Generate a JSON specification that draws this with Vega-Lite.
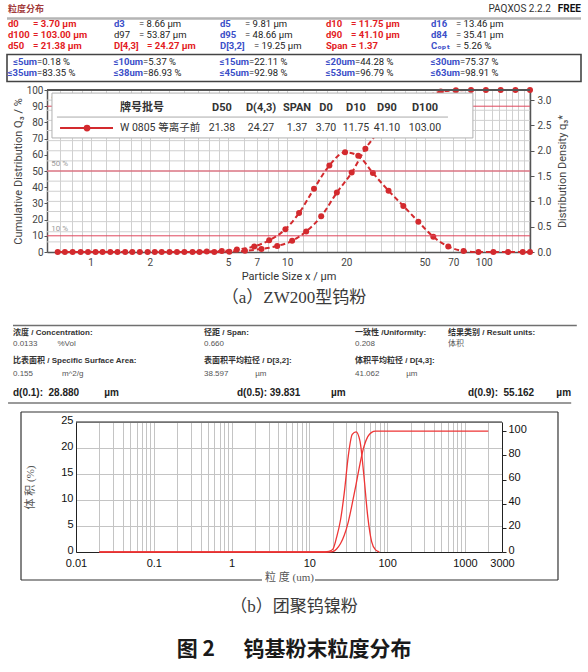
{
"$schema": "https://vega.github.io/schema/vega-lite/v6.json",
"padding": 0,
"autosize": {"type": "pad"},
"spacing": 0,
"bounds": "flush",
"config": {"view": {"stroke": null}, "font": "Roboto", "text": {"font": "Roboto, Noto Sans CJK SC"}},
"resolve": {"scale": {"x": "independent", "y": "independent", "color": "independent"}, "axis": {"x": "independent", "y": "independent"}},
"datasets": {
 "cellsA": [
  {"col":0,"row":0,"lab":"d0","val":"= 3.70 µm","grp":"key"},
  {"col":1,"row":0,"lab":"d3","val":"= 8.66 µm","grp":"stat"},
  {"col":2,"row":0,"lab":"d5","val":"= 9.81 µm","grp":"stat"},
  {"col":3,"row":0,"lab":"d10","val":"= 11.75 µm","grp":"key"},
  {"col":4,"row":0,"lab":"d16","val":"= 13.46 µm","grp":"stat"},
  {"col":0,"row":1,"lab":"d100","val":"= 103.00 µm","grp":"key"},
  {"col":1,"row":1,"lab":"d97","val":"= 53.87 µm","grp":"plain"},
  {"col":2,"row":1,"lab":"d95","val":"= 48.66 µm","grp":"stat"},
  {"col":3,"row":1,"lab":"d90","val":"= 41.10 µm","grp":"key"},
  {"col":4,"row":1,"lab":"d84","val":"= 35.41 µm","grp":"stat"},
  {"col":0,"row":2,"lab":"d50","val":"= 21.38 µm","grp":"key"},
  {"col":1,"row":2,"lab":"D[4,3]","val":"= 24.27 µm","grp":"key"},
  {"col":2,"row":2,"lab":"D[3,2]","val":"= 19.25 µm","grp":"stat"},
  {"col":3,"row":2,"lab":"Span","val":"= 1.37","grp":"key"},
  {"col":4,"row":2,"lab":"Cₒₚₜ","val":"= 5.26 %","grp":"stat"}
 ],
 "boxA": [
  {"col":0,"row":0,"lab":"≤5um","val":"=0.18 %"},
  {"col":1,"row":0,"lab":"≤10um","val":"=5.37 %"},
  {"col":2,"row":0,"lab":"≤15um","val":"=22.11 %"},
  {"col":3,"row":0,"lab":"≤20um","val":"=44.28 %"},
  {"col":4,"row":0,"lab":"≤30um","val":"=75.37 %"},
  {"col":0,"row":1,"lab":"≤35um","val":"=83.35 %"},
  {"col":1,"row":1,"lab":"≤38um","val":"=86.93 %"},
  {"col":2,"row":1,"lab":"≤45um","val":"=92.98 %"},
  {"col":3,"row":1,"lab":"≤53um","val":"=96.79 %"},
  {"col":4,"row":1,"lab":"≤63um","val":"=98.91 %"}
 ],
 "qa": [
  {"x":0.68,"q":0},{"x":0.81,"q":0},{"x":0.97,"q":0},{"x":1.15,"q":0},{"x":1.37,"q":0},{"x":1.63,"q":0},{"x":1.95,"q":0},{"x":2.3,"q":0},{"x":2.75,"q":0},{"x":3.3,"q":0},{"x":3.9,"q":0.01},{"x":4.65,"q":0.02},{"x":5.55,"q":0.05},{"x":6.8,"q":0.11},{"x":8.1,"q":0.23},{"x":9.8,"q":0.45},{"x":11.5,"q":0.77},{"x":13.7,"q":1.25},{"x":16.4,"q":1.71},{"x":19.7,"q":1.97},{"x":23.0,"q":1.9},{"x":27.3,"q":1.56},{"x":32.8,"q":1.21},{"x":39.0,"q":0.91},{"x":46.5,"q":0.6},{"x":55.4,"q":0.3},{"x":66,"q":0.11},{"x":79,"q":0.02},{"x":94,"q":0},{"x":112,"q":0},{"x":133,"q":0},{"x":158,"q":0},{"x":172,"q":0}
 ],
 "Qa": [
  {"x":0.74,"Q":0},{"x":0.89,"Q":0},{"x":1.06,"Q":0},{"x":1.26,"Q":0},{"x":1.5,"Q":0},{"x":1.78,"Q":0},{"x":2.12,"Q":0},{"x":2.52,"Q":0},{"x":3.0,"Q":0},{"x":3.58,"Q":0},{"x":4.26,"Q":0.05},{"x":5.08,"Q":0.2},{"x":6.1,"Q":0.7},{"x":7.4,"Q":1.9},{"x":8.9,"Q":3.7},{"x":10.6,"Q":6.9},{"x":12.5,"Q":12.7},{"x":14.9,"Q":22},{"x":17.9,"Q":36.7},{"x":21.3,"Q":49},{"x":25.0,"Q":63.7},{"x":29.9,"Q":75.5},{"x":35.8,"Q":84.3},{"x":42.6,"Q":91},{"x":50.8,"Q":96},{"x":60.5,"Q":99},{"x":72.2,"Q":99.8},{"x":86.2,"Q":100},{"x":102.6,"Q":100},{"x":122,"Q":100},{"x":145,"Q":100},{"x":172,"Q":100}
 ],
 "refA": [{"p":10,"lab":"10 %"},{"p":50,"lab":"50 %"},{"p":90,"lab":"90 %"}],
 "gridA": [{"g":0.2},{"g":0.4},{"g":0.6},{"g":0.8},{"g":1.0},{"g":1.2},{"g":1.4},{"g":1.6},{"g":1.8},{"g":2.0},{"g":2.2},{"g":2.4},{"g":2.6},{"g":2.8},{"g":3.0}],
 "legA": [
  {"c":0,"h":"牌号批号","v":"W 0805 等离子前"},
  {"c":1,"h":"D50","v":"21.38"},
  {"c":2,"h":"D(4,3)","v":"24.27"},
  {"c":3,"h":"SPAN","v":"1.37"},
  {"c":4,"h":"D0","v":"3.70"},
  {"c":5,"h":"D10","v":"11.75"},
  {"c":6,"h":"D90","v":"41.10"},
  {"c":7,"h":"D100","v":"103.00"}
 ],
 "infoB": [
  {"c":0,"r":0,"t":"浓度 / Concentration:","k":"lab"},
  {"c":0,"r":1,"t":"0.0133\u00a0\u00a0\u00a0\u00a0\u00a0\u00a0\u00a0\u00a0\u00a0%Vol","k":"val"},
  {"c":1,"r":0,"t":"径距 / Span:","k":"lab"},
  {"c":1,"r":1,"t":"0.660","k":"val"},
  {"c":2,"r":0,"t":"一致性 /Uniformity:","k":"lab"},
  {"c":2,"r":1,"t":"0.208","k":"val"},
  {"c":3,"r":0,"t":"结果类别 / Result units:","k":"lab"},
  {"c":3,"r":1,"t":"体积","k":"val"},
  {"c":0,"r":2,"t":"比表面积 / Specific Surface Area:","k":"lab"},
  {"c":0,"r":3,"t":"0.155\u00a0\u00a0\u00a0\u00a0\u00a0\u00a0\u00a0\u00a0\u00a0\u00a0\u00a0\u00a0\u00a0m^2/g","k":"val"},
  {"c":1,"r":2,"t":"表面积平均粒径 / D[3,2]:","k":"lab"},
  {"c":1,"r":3,"t":"38.597\u00a0\u00a0\u00a0\u00a0\u00a0\u00a0\u00a0\u00a0\u00a0\u00a0\u00a0\u00a0µm","k":"val"},
  {"c":2,"r":2,"t":"体积平均粒径 / D[4,3]:","k":"lab"},
  {"c":2,"r":3,"t":"41.062\u00a0\u00a0\u00a0\u00a0\u00a0\u00a0\u00a0\u00a0\u00a0\u00a0\u00a0\u00a0µm","k":"val"}
 ],
 "drowB": [
  {"c":0,"t":"d(0.1):\u00a0\u00a028.880\u00a0\u00a0\u00a0\u00a0\u00a0\u00a0\u00a0\u00a0\u00a0µm"},
  {"c":1,"t":"d(0.5):\u00a039.831\u00a0\u00a0\u00a0\u00a0\u00a0\u00a0\u00a0\u00a0\u00a0\u00a0\u00a0µm"},
  {"c":2,"t":"d(0.9):\u00a0\u00a055.162\u00a0\u00a0\u00a0\u00a0\u00a0\u00a0\u00a0\u00a0µm"}
 ],
 "qb": [
  {"x":0.02,"v":0},{"x":15.9,"v":0},{"x":17.8,"v":0.1},{"x":20.0,"v":0.5},{"x":22.4,"v":2.8},{"x":25.2,"v":6.2},{"x":28.2,"v":11.5},{"x":31.7,"v":18.5},{"x":35.6,"v":22.6},{"x":39.9,"v":23.1},{"x":44.8,"v":21.3},{"x":50.2,"v":14.8},{"x":56.4,"v":6.8},{"x":63.2,"v":2.0},{"x":71.0,"v":0.4},{"x":79.6,"v":0}
 ],
 "Qb": [
  {"x":0.02,"c":0},{"x":15.9,"c":0},{"x":17.8,"c":0},{"x":20.0,"c":0.3},{"x":22.4,"c":2.5},{"x":25.2,"c":7},{"x":28.2,"c":14},{"x":31.7,"c":25},{"x":35.6,"c":40},{"x":39.9,"c":56},{"x":44.8,"c":73},{"x":50.2,"c":87},{"x":56.4,"c":95.5},{"x":63.2,"c":99},{"x":71.0,"c":100},{"x":2000,"c":100}
 ]
},
"vconcat": [
 {
  "width": 588, "height": 54,
  "layer": [
   {"data":{"values":[{"t":"粒度分布"}]},
    "mark":{"type":"text","align":"left","baseline":"middle","font":"Noto Sans CJK SC","fontSize":9,"fontWeight":"bold","color":"#a23a3a"},
    "encoding":{"text":{"field":"t"},
     "x":{"datum":0,"type":"quantitative","scale":{"domain":[-1,0,1,2,3,4,5],"range":[0,8,114,220,326,431,581],"nice":false,"zero":false},"axis":null},
     "y":{"datum":-2,"type":"quantitative","scale":{"domain":[-2,-1,0,1,2],"range":[9,18.5,24,35,46],"nice":false,"zero":false},"axis":null}}},
   {"data":{"values":[{"t":"PAQXOS 2.2.2"}]},
    "mark":{"type":"text","align":"right","baseline":"middle","dx":-30,"font":"Roboto","fontSize":10,"color":"#333"},
    "encoding":{"text":{"field":"t"},
     "x":{"datum":5,"type":"quantitative","scale":{"domain":[-1,0,1,2,3,4,5],"range":[0,8,114,220,326,431,581],"nice":false,"zero":false},"axis":null},
     "y":{"datum":-2,"type":"quantitative","scale":{"domain":[-2,-1,0,1,2],"range":[9,18.5,24,35,46],"nice":false,"zero":false},"axis":null}}},
   {"data":{"values":[{"t":"FREE"}]},
    "mark":{"type":"text","align":"right","baseline":"middle","font":"Roboto","fontSize":10,"fontWeight":"bold","color":"#111"},
    "encoding":{"text":{"field":"t"},
     "x":{"datum":5,"type":"quantitative","scale":{"domain":[-1,0,1,2,3,4,5],"range":[0,8,114,220,326,431,581],"nice":false,"zero":false},"axis":null},
     "y":{"datum":-2,"type":"quantitative","scale":{"domain":[-2,-1,0,1,2],"range":[9,18.5,24,35,46],"nice":false,"zero":false},"axis":null}}},
   {"data":{"values":[{}]},
    "mark":{"type":"rule","color":"#b5b5b5","strokeWidth":2.5},
    "encoding":{
     "x":{"datum":-0.125,"type":"quantitative","scale":{"domain":[-1,0,1,2,3,4,5],"range":[0,8,114,220,326,431,581],"nice":false,"zero":false},"axis":null},
     "x2":{"datum":5},
     "y":{"datum":-1,"type":"quantitative","scale":{"domain":[-2,-1,0,1,2],"range":[9,18.5,24,35,46],"nice":false,"zero":false},"axis":null}}},
   {"data":{"name":"cellsA"},"transform":[{"filter":"datum.grp != 'plain'"}],
    "mark":{"type":"text","align":"left","baseline":"middle","font":"Roboto, DejaVu Sans","fontSize":9.5,"fontWeight":"bold"},
    "encoding":{"text":{"field":"lab"},
     "x":{"field":"col","type":"quantitative","scale":{"domain":[-1,0,1,2,3,4,5],"range":[0,8,114,220,326,431,581],"nice":false,"zero":false},"axis":null},
     "y":{"field":"row","type":"quantitative","scale":{"domain":[-2,-1,0,1,2],"range":[9,18.5,24,35,46],"nice":false,"zero":false},"axis":null},
     "color":{"field":"grp","type":"nominal","scale":{"domain":["key","stat"],"range":["#e31b23","#3b4fc8"]},"legend":null}}},
   {"data":{"name":"cellsA"},"transform":[{"filter":"datum.grp == 'plain'"}],
    "mark":{"type":"text","align":"left","baseline":"middle","font":"Roboto","fontSize":9.5,"color":"#222"},
    "encoding":{"text":{"field":"lab"},
     "x":{"field":"col","type":"quantitative","scale":{"domain":[-1,0,1,2,3,4,5],"range":[0,8,114,220,326,431,581],"nice":false,"zero":false},"axis":null},
     "y":{"field":"row","type":"quantitative","scale":{"domain":[-2,-1,0,1,2],"range":[9,18.5,24,35,46],"nice":false,"zero":false},"axis":null}}},
   {"data":{"name":"cellsA"},"transform":[{"filter":"datum.grp == 'key' && datum.lab != 'D[4,3]'"}],
    "mark":{"type":"text","align":"left","baseline":"middle","dx":25,"font":"Roboto","fontSize":9.5,"fontWeight":"bold","color":"#e31b23"},
    "encoding":{"text":{"field":"val"},
     "x":{"field":"col","type":"quantitative","scale":{"domain":[-1,0,1,2,3,4,5],"range":[0,8,114,220,326,431,581],"nice":false,"zero":false},"axis":null},
     "y":{"field":"row","type":"quantitative","scale":{"domain":[-2,-1,0,1,2],"range":[9,18.5,24,35,46],"nice":false,"zero":false},"axis":null}}},
   {"data":{"name":"cellsA"},"transform":[{"filter":"datum.lab == 'D[4,3]'"}],
    "mark":{"type":"text","align":"left","baseline":"middle","dx":33,"font":"Roboto","fontSize":9.5,"fontWeight":"bold","color":"#e31b23"},
    "encoding":{"text":{"field":"val"},
     "x":{"field":"col","type":"quantitative","scale":{"domain":[-1,0,1,2,3,4,5],"range":[0,8,114,220,326,431,581],"nice":false,"zero":false},"axis":null},
     "y":{"field":"row","type":"quantitative","scale":{"domain":[-2,-1,0,1,2],"range":[9,18.5,24,35,46],"nice":false,"zero":false},"axis":null}}},
   {"data":{"name":"cellsA"},"transform":[{"filter":"datum.grp != 'key' && datum.lab != 'D[3,2]'"}],
    "mark":{"type":"text","align":"left","baseline":"middle","dx":25,"font":"Roboto","fontSize":9.5,"color":"#222"},
    "encoding":{"text":{"field":"val"},
     "x":{"field":"col","type":"quantitative","scale":{"domain":[-1,0,1,2,3,4,5],"range":[0,8,114,220,326,431,581],"nice":false,"zero":false},"axis":null},
     "y":{"field":"row","type":"quantitative","scale":{"domain":[-2,-1,0,1,2],"range":[9,18.5,24,35,46],"nice":false,"zero":false},"axis":null}}},
   {"data":{"name":"cellsA"},"transform":[{"filter":"datum.lab == 'D[3,2]'"}],
    "mark":{"type":"text","align":"left","baseline":"middle","dx":34,"font":"Roboto","fontSize":9.5,"color":"#222"},
    "encoding":{"text":{"field":"val"},
     "x":{"field":"col","type":"quantitative","scale":{"domain":[-1,0,1,2,3,4,5],"range":[0,8,114,220,326,431,581],"nice":false,"zero":false},"axis":null},
     "y":{"field":"row","type":"quantitative","scale":{"domain":[-2,-1,0,1,2],"range":[9,18.5,24,35,46],"nice":false,"zero":false},"axis":null}}}
  ]
 },
 {
  "width": 588, "height": 36,
  "layer": [
   {"data":{"values":[{}]},
    "mark":{"type":"rect","fill":"#ffffff","fillOpacity":0,"stroke":"#444","strokeWidth":1.6},
    "encoding":{
     "x":{"datum":-0.125,"type":"quantitative","scale":{"domain":[-1,0,1,2,3,4,5],"range":[0,8,114,220,326,431,581],"nice":false,"zero":false},"axis":null},
     "x2":{"datum":5},
     "y":{"datum":-1,"type":"quantitative","scale":{"domain":[-1,0,1,2],"range":[0.5,8,19,27.5],"nice":false,"zero":false},"axis":null},
     "y2":{"datum":2}}},
   {"data":{"name":"boxA"},
    "mark":{"type":"text","align":"right","baseline":"middle","dx":29,"font":"Roboto, DejaVu Sans","fontSize":9.5,"fontWeight":"bold","color":"#3b4fc8"},
    "encoding":{"text":{"field":"lab"},
     "x":{"field":"col","type":"quantitative","scale":{"domain":[-1,0,1,2,3,4,5],"range":[0,8,114,220,326,431,581],"nice":false,"zero":false},"axis":null},
     "y":{"field":"row","type":"quantitative","scale":{"domain":[-1,0,1,2],"range":[0.5,8,19,27.5],"nice":false,"zero":false},"axis":null}}},
   {"data":{"name":"boxA"},
    "mark":{"type":"text","align":"left","baseline":"middle","dx":29,"font":"Roboto","fontSize":9.5,"color":"#222"},
    "encoding":{"text":{"field":"val"},
     "x":{"field":"col","type":"quantitative","scale":{"domain":[-1,0,1,2,3,4,5],"range":[0,8,114,220,326,431,581],"nice":false,"zero":false},"axis":null},
     "y":{"field":"row","type":"quantitative","scale":{"domain":[-1,0,1,2],"range":[0.5,8,19,27.5],"nice":false,"zero":false},"axis":null}}}
  ]
 },
 {
  "width": 588, "height": 162,
  "resolve": {"scale": {"x": "independent", "y": "independent"}, "axis": {"x": "independent", "y": "independent"}},
  "layer": [
   {
    "layer": [
     {"data":{"name":"gridA"},
      "mark":{"type":"rule","color":"#d0d0d0","strokeWidth":1},
      "encoding":{
       "x":{"datum":0.6,"type":"quantitative","scale":{"type":"log","domain":[0.6,172],"range":[47,530],"nice":false},
        "axis":{"title":"Particle Size x / µm","values":[0.6,0.7,0.8,0.9,1,1.2,1.4,1.6,1.8,2,2.5,3,3.5,4,4.5,5,6,7,8,9,10,12,14,16,18,20,25,30,35,40,45,50,60,70,80,90,100,110,120,130,140,150,160,170],"labelExpr":"indexof([1,2,5,7,10,20,50,70,100], datum.value) >= 0 ? datum.label : ''","format":"~g","grid":true,"gridColor":"#d0d0d0","gridWidth":1,"ticks":false,"tickSize":0,"labelPadding":5,"labelFont":"Roboto","labelFontSize":10,"labelColor":"#444","labelFlush":false,"labelOverlap":false,"labelBound":false,"domain":true,"domainColor":"#555","domainWidth":1.5,"titleFont":"Roboto","titleFontSize":11,"titleColor":"#333","titleFontWeight":"normal","titleY":24,"titleBaseline":"middle"}},
       "x2":{"datum":172},
       "y":{"field":"g","type":"quantitative","scale":{"domain":[0,3.2],"nice":false,"zero":true},
        "axis":{"orient":"right","offset":-58,"title":"Distribution Density q₃*","values":[0,0.5,1,1.5,2,2.5,3],"format":".1f","grid":false,"ticks":true,"tickSize":4,"tickColor":"#555","labelPadding":3,"labelFont":"Roboto","labelFontSize":10,"labelColor":"#444","domainColor":"#555","domainWidth":1.5,"titleFont":"Roboto, DejaVu Sans","titleFontSize":11,"titleColor":"#444","titleFontWeight":"normal","titleX":32,"titleBaseline":"middle","titleAngle":270}}}},
     {"data":{"name":"qa"},
      "mark":{"type":"line","color":"#d32a2e","strokeWidth":2,"strokeDash":[5,3],"interpolate":"monotone"},
      "encoding":{
       "x":{"field":"x","type":"quantitative","scale":{"type":"log","domain":[0.6,172],"range":[47,530],"nice":false},
        "axis":{"title":"Particle Size x / µm","values":[0.6,0.7,0.8,0.9,1,1.2,1.4,1.6,1.8,2,2.5,3,3.5,4,4.5,5,6,7,8,9,10,12,14,16,18,20,25,30,35,40,45,50,60,70,80,90,100,110,120,130,140,150,160,170],"labelExpr":"indexof([1,2,5,7,10,20,50,70,100], datum.value) >= 0 ? datum.label : ''","format":"~g","grid":true,"gridColor":"#d0d0d0","gridWidth":1,"ticks":false,"tickSize":0,"labelPadding":5,"labelFont":"Roboto","labelFontSize":10,"labelColor":"#444","labelFlush":false,"labelOverlap":false,"labelBound":false,"domain":true,"domainColor":"#555","domainWidth":1.5,"titleFont":"Roboto","titleFontSize":11,"titleColor":"#333","titleFontWeight":"normal","titleY":24,"titleBaseline":"middle"}},
       "y":{"field":"q","type":"quantitative","scale":{"domain":[0,3.2],"nice":false,"zero":true},
        "axis":{"orient":"right","offset":-58,"title":"Distribution Density q₃*","values":[0,0.5,1,1.5,2,2.5,3],"format":".1f","grid":false,"ticks":true,"tickSize":4,"tickColor":"#555","labelPadding":3,"labelFont":"Roboto","labelFontSize":10,"labelColor":"#444","domainColor":"#555","domainWidth":1.5,"titleFont":"Roboto, DejaVu Sans","titleFontSize":11,"titleColor":"#444","titleFontWeight":"normal","titleX":32,"titleBaseline":"middle","titleAngle":270}}}},
     {"data":{"name":"qa"},
      "mark":{"type":"circle","color":"#d32a2e","size":36,"opacity":1},
      "encoding":{
       "x":{"field":"x","type":"quantitative","scale":{"type":"log","domain":[0.6,172],"range":[47,530],"nice":false},
        "axis":{"title":"Particle Size x / µm","values":[0.6,0.7,0.8,0.9,1,1.2,1.4,1.6,1.8,2,2.5,3,3.5,4,4.5,5,6,7,8,9,10,12,14,16,18,20,25,30,35,40,45,50,60,70,80,90,100,110,120,130,140,150,160,170],"labelExpr":"indexof([1,2,5,7,10,20,50,70,100], datum.value) >= 0 ? datum.label : ''","format":"~g","grid":true,"gridColor":"#d0d0d0","gridWidth":1,"ticks":false,"tickSize":0,"labelPadding":5,"labelFont":"Roboto","labelFontSize":10,"labelColor":"#444","labelFlush":false,"labelOverlap":false,"labelBound":false,"domain":true,"domainColor":"#555","domainWidth":1.5,"titleFont":"Roboto","titleFontSize":11,"titleColor":"#333","titleFontWeight":"normal","titleY":24,"titleBaseline":"middle"}},
       "y":{"field":"q","type":"quantitative","scale":{"domain":[0,3.2],"nice":false,"zero":true},
        "axis":{"orient":"right","offset":-58,"title":"Distribution Density q₃*","values":[0,0.5,1,1.5,2,2.5,3],"format":".1f","grid":false,"ticks":true,"tickSize":4,"tickColor":"#555","labelPadding":3,"labelFont":"Roboto","labelFontSize":10,"labelColor":"#444","domainColor":"#555","domainWidth":1.5,"titleFont":"Roboto, DejaVu Sans","titleFontSize":11,"titleColor":"#444","titleFontWeight":"normal","titleX":32,"titleBaseline":"middle","titleAngle":270}}}}
    ]
   },
   {
    "layer": [
     {"data":{"name":"refA"},
      "mark":{"type":"rule","color":"#e0475d","strokeWidth":1},
      "encoding":{
       "x":{"datum":0.6,"type":"quantitative","scale":{"type":"log","domain":[0.6,172],"range":[47,530],"nice":false},"axis":null},
       "x2":{"datum":172},
       "y":{"field":"p","type":"quantitative","scale":{"domain":[0,100],"nice":false,"zero":true},
        "axis":{"orient":"left","offset":-47,"title":"Cumulative Distribution Q₃ / %","values":[0,10,20,30,40,50,60,70,80,90,100],"grid":false,"ticks":true,"tickSize":3,"tickColor":"#555","labelPadding":1,"labelFont":"Roboto","labelFontSize":10,"labelColor":"#444","domainColor":"#555","domainWidth":1.5,"titleFont":"Roboto, DejaVu Sans","titleFontSize":11,"titleColor":"#444","titleFontWeight":"normal","titleX":-29,"titleBaseline":"middle","titleAngle":270}}}},
     {"data":{"name":"refA"},
      "mark":{"type":"text","align":"left","baseline":"middle","dy":-7,"font":"Roboto","fontSize":8,"color":"#9a9a9a"},
      "encoding":{"text":{"field":"lab"},
       "x":{"datum":0.63,"type":"quantitative","scale":{"type":"log","domain":[0.6,172],"range":[47,530],"nice":false},"axis":null},
       "y":{"field":"p","type":"quantitative","scale":{"domain":[0,100],"nice":false,"zero":true},
        "axis":{"orient":"left","offset":-47,"title":"Cumulative Distribution Q₃ / %","values":[0,10,20,30,40,50,60,70,80,90,100],"grid":false,"ticks":true,"tickSize":3,"tickColor":"#555","labelPadding":1,"labelFont":"Roboto","labelFontSize":10,"labelColor":"#444","domainColor":"#555","domainWidth":1.5,"titleFont":"Roboto, DejaVu Sans","titleFontSize":11,"titleColor":"#444","titleFontWeight":"normal","titleX":-29,"titleBaseline":"middle","titleAngle":270}}}},
     {"data":{"name":"Qa"},
      "mark":{"type":"line","color":"#d32a2e","strokeWidth":2,"strokeDash":[5,3],"interpolate":"monotone"},
      "encoding":{
       "x":{"field":"x","type":"quantitative","scale":{"type":"log","domain":[0.6,172],"range":[47,530],"nice":false},"axis":null},
       "y":{"field":"Q","type":"quantitative","scale":{"domain":[0,100],"nice":false,"zero":true},
        "axis":{"orient":"left","offset":-47,"title":"Cumulative Distribution Q₃ / %","values":[0,10,20,30,40,50,60,70,80,90,100],"grid":false,"ticks":true,"tickSize":3,"tickColor":"#555","labelPadding":1,"labelFont":"Roboto","labelFontSize":10,"labelColor":"#444","domainColor":"#555","domainWidth":1.5,"titleFont":"Roboto, DejaVu Sans","titleFontSize":11,"titleColor":"#444","titleFontWeight":"normal","titleX":-29,"titleBaseline":"middle","titleAngle":270}}}},
     {"data":{"name":"Qa"},
      "mark":{"type":"circle","color":"#d32a2e","size":36,"opacity":1},
      "encoding":{
       "x":{"field":"x","type":"quantitative","scale":{"type":"log","domain":[0.6,172],"range":[47,530],"nice":false},"axis":null},
       "y":{"field":"Q","type":"quantitative","scale":{"domain":[0,100],"nice":false,"zero":true},
        "axis":{"orient":"left","offset":-47,"title":"Cumulative Distribution Q₃ / %","values":[0,10,20,30,40,50,60,70,80,90,100],"grid":false,"ticks":true,"tickSize":3,"tickColor":"#555","labelPadding":1,"labelFont":"Roboto","labelFontSize":10,"labelColor":"#444","domainColor":"#555","domainWidth":1.5,"titleFont":"Roboto, DejaVu Sans","titleFontSize":11,"titleColor":"#444","titleFontWeight":"normal","titleX":-29,"titleBaseline":"middle","titleAngle":270}}}},
     {"data":{"values":[{}]},
      "mark":{"type":"rule","color":"#555","strokeWidth":2},
      "encoding":{
       "x":{"datum":0.6,"type":"quantitative","scale":{"type":"log","domain":[0.6,172],"range":[47,530],"nice":false},"axis":null},
       "x2":{"datum":172},
       "y":{"datum":100,"type":"quantitative","scale":{"domain":[0,100],"nice":false,"zero":true},
        "axis":{"orient":"left","offset":-47,"title":"Cumulative Distribution Q₃ / %","values":[0,10,20,30,40,50,60,70,80,90,100],"grid":false,"ticks":true,"tickSize":3,"tickColor":"#555","labelPadding":1,"labelFont":"Roboto","labelFontSize":10,"labelColor":"#444","domainColor":"#555","domainWidth":1.5,"titleFont":"Roboto, DejaVu Sans","titleFontSize":11,"titleColor":"#444","titleFontWeight":"normal","titleX":-29,"titleBaseline":"middle","titleAngle":270}}}},
     {"data":{"values":[{}]},
      "mark":{"type":"rect","fill":"#ffffff","stroke":"#b0b0b0","strokeWidth":1},
      "encoding":{
       "x":{"datum":0.636,"type":"quantitative","scale":{"type":"log","domain":[0.6,172],"range":[47,530],"nice":false},"axis":null},
       "x2":{"datum":88.1},
       "y":{"datum":98.1,"type":"quantitative","scale":{"domain":[0,100],"nice":false,"zero":true},
        "axis":{"orient":"left","offset":-47,"title":"Cumulative Distribution Q₃ / %","values":[0,10,20,30,40,50,60,70,80,90,100],"grid":false,"ticks":true,"tickSize":3,"tickColor":"#555","labelPadding":1,"labelFont":"Roboto","labelFontSize":10,"labelColor":"#444","domainColor":"#555","domainWidth":1.5,"titleFont":"Roboto, DejaVu Sans","titleFontSize":11,"titleColor":"#444","titleFontWeight":"normal","titleX":-29,"titleBaseline":"middle","titleAngle":270}},
       "y2":{"datum":70.4}}},
     {"data":{"values":[{}]},
      "mark":{"type":"rule","color":"#aaaaaa","strokeWidth":1},
      "encoding":{
       "x":{"datum":0.674,"type":"quantitative","scale":{"type":"log","domain":[0.6,172],"range":[47,530],"nice":false},"axis":null},
       "x2":{"datum":65.8},
       "y":{"datum":83.3,"type":"quantitative","scale":{"domain":[0,100],"nice":false,"zero":true},
        "axis":{"orient":"left","offset":-47,"title":"Cumulative Distribution Q₃ / %","values":[0,10,20,30,40,50,60,70,80,90,100],"grid":false,"ticks":true,"tickSize":3,"tickColor":"#555","labelPadding":1,"labelFont":"Roboto","labelFontSize":10,"labelColor":"#444","domainColor":"#555","domainWidth":1.5,"titleFont":"Roboto, DejaVu Sans","titleFontSize":11,"titleColor":"#444","titleFontWeight":"normal","titleX":-29,"titleBaseline":"middle","titleAngle":270}}}},
     {"data":{"values":[{}]},
      "mark":{"type":"rule","color":"#d32a2e","strokeWidth":2},
      "encoding":{
       "x":{"datum":0.699,"type":"quantitative","scale":{"type":"log","domain":[0.6,172],"range":[47,530],"nice":false},"axis":null},
       "x2":{"datum":1.3},
       "y":{"datum":76.5,"type":"quantitative","scale":{"domain":[0,100],"nice":false,"zero":true},
        "axis":{"orient":"left","offset":-47,"title":"Cumulative Distribution Q₃ / %","values":[0,10,20,30,40,50,60,70,80,90,100],"grid":false,"ticks":true,"tickSize":3,"tickColor":"#555","labelPadding":1,"labelFont":"Roboto","labelFontSize":10,"labelColor":"#444","domainColor":"#555","domainWidth":1.5,"titleFont":"Roboto, DejaVu Sans","titleFontSize":11,"titleColor":"#444","titleFontWeight":"normal","titleX":-29,"titleBaseline":"middle","titleAngle":270}}}},
     {"data":{"values":[{}]},
      "mark":{"type":"circle","color":"#d32a2e","size":45,"opacity":1},
      "encoding":{
       "x":{"datum":0.959,"type":"quantitative","scale":{"type":"log","domain":[0.6,172],"range":[47,530],"nice":false},"axis":null},
       "y":{"datum":76.5,"type":"quantitative","scale":{"domain":[0,100],"nice":false,"zero":true},
        "axis":{"orient":"left","offset":-47,"title":"Cumulative Distribution Q₃ / %","values":[0,10,20,30,40,50,60,70,80,90,100],"grid":false,"ticks":true,"tickSize":3,"tickColor":"#555","labelPadding":1,"labelFont":"Roboto","labelFontSize":10,"labelColor":"#444","domainColor":"#555","domainWidth":1.5,"titleFont":"Roboto, DejaVu Sans","titleFontSize":11,"titleColor":"#444","titleFontWeight":"normal","titleX":-29,"titleBaseline":"middle","titleAngle":270}}}}
    ]
   },
   {
    "data": {"name": "legA"},
    "layer": [
     {"transform":[{"filter":"datum.c == 0"}],
      "mark":{"type":"text","align":"left","baseline":"middle","font":"Noto Sans CJK SC","fontSize":11,"fontWeight":"bold","color":"#333"},
      "encoding":{"text":{"field":"h"},
       "x":{"field":"c","type":"quantitative","scale":{"domain":[0,1,2,3,4,5,6,7],"range":[120,222,261,297,326,356,387,425],"nice":false,"zero":false},"axis":null},
       "y":{"datum":88.9,"type":"quantitative","scale":{"domain":[0,100],"nice":false},"axis":null}}},
     {"transform":[{"filter":"datum.c > 0"}],
      "mark":{"type":"text","align":"center","baseline":"middle","font":"Roboto","fontSize":11,"fontWeight":"bold","color":"#333"},
      "encoding":{"text":{"field":"h"},
       "x":{"field":"c","type":"quantitative","scale":{"domain":[0,1,2,3,4,5,6,7],"range":[120,222,261,297,326,356,387,425],"nice":false,"zero":false},"axis":null},
       "y":{"datum":88.9,"type":"quantitative","scale":{"domain":[0,100],"nice":false},"axis":null}}},
     {"transform":[{"filter":"datum.c == 0"}],
      "mark":{"type":"text","align":"left","baseline":"middle","font":"Roboto, Noto Sans CJK SC","fontSize":10.5,"color":"#333"},
      "encoding":{"text":{"field":"v"},
       "x":{"field":"c","type":"quantitative","scale":{"domain":[0,1,2,3,4,5,6,7],"range":[120,222,261,297,326,356,387,425],"nice":false,"zero":false},"axis":null},
       "y":{"datum":76.5,"type":"quantitative","scale":{"domain":[0,100],"nice":false},"axis":null}}},
     {"transform":[{"filter":"datum.c > 0"}],
      "mark":{"type":"text","align":"center","baseline":"middle","font":"Roboto","fontSize":10.5,"color":"#333"},
      "encoding":{"text":{"field":"v"},
       "x":{"field":"c","type":"quantitative","scale":{"domain":[0,1,2,3,4,5,6,7],"range":[120,222,261,297,326,356,387,425],"nice":false,"zero":false},"axis":null},
       "y":{"datum":76.5,"type":"quantitative","scale":{"domain":[0,100],"nice":false},"axis":null}}}
    ]
   }
  ]
 },
 {
  "width": 588, "height": 73,
  "data": {"values": [{"t": "（a）ZW200型钨粉"}]},
  "mark": {"type":"text","align":"center","baseline":"middle","font":"Liberation Serif, Noto Sans CJK SC","fontSize":17,"color":"#3a3a3a"},
  "encoding": {"text":{"field":"t"},
   "x":{"datum":0.5,"type":"quantitative","scale":{"domain":[0,1],"nice":false},"axis":null},
   "y":{"datum":0.37,"type":"quantitative","scale":{"domain":[0,1],"nice":false},"axis":null}}
 },
 {
  "width": 588, "height": 60,
  "layer": [
   {"data":{"values":[{}]},
    "mark":{"type":"rule","color":"#707070","strokeWidth":1.5},
    "encoding":{
     "x":{"datum":0,"type":"quantitative","scale":{"domain":[-1,0,1,2,3,4],"range":[0,13,204,355,448,588],"nice":false,"zero":false},"axis":null},
     "x2":{"datum":3.92},
     "y":{"datum":-1,"type":"quantitative","scale":{"domain":[-1,0,1,2,3],"range":[0.5,8,19,36,49],"nice":false,"zero":false},"axis":null}}},
   {"data":{"name":"infoB"},"transform":[{"filter":"datum.k == 'lab'"}],
    "mark":{"type":"text","align":"left","baseline":"middle","font":"Liberation Sans, Noto Sans CJK SC","fontSize":8,"fontWeight":"bold","color":"#333"},
    "encoding":{"text":{"field":"t"},
     "x":{"field":"c","type":"quantitative","scale":{"domain":[-1,0,1,2,3,4],"range":[0,13,204,355,448,588],"nice":false,"zero":false},"axis":null},
     "y":{"field":"r","type":"quantitative","scale":{"domain":[-1,0,1,2,3],"range":[0.5,8,19,36,49],"nice":false,"zero":false},"axis":null}}},
   {"data":{"name":"infoB"},"transform":[{"filter":"datum.k == 'val'"}],
    "mark":{"type":"text","align":"left","baseline":"middle","font":"Liberation Sans, Noto Sans CJK SC","fontSize":8,"color":"#555"},
    "encoding":{"text":{"field":"t"},
     "x":{"field":"c","type":"quantitative","scale":{"domain":[-1,0,1,2,3,4],"range":[0,13,204,355,448,588],"nice":false,"zero":false},"axis":null},
     "y":{"field":"r","type":"quantitative","scale":{"domain":[-1,0,1,2,3],"range":[0.5,8,19,36,49],"nice":false,"zero":false},"axis":null}}}
  ]
 },
 {
  "width": 588, "height": 37,
  "layer": [
   {"data":{"name":"drowB"},
    "mark":{"type":"text","align":"left","baseline":"middle","font":"Liberation Sans","fontSize":10,"fontWeight":"bold","color":"#222"},
    "encoding":{"text":{"field":"t"},
     "x":{"field":"c","type":"quantitative","scale":{"domain":[-1,0,1,2,3],"range":[0,13,237,468,588],"nice":false,"zero":false},"axis":null},
     "y":{"datum":0,"type":"quantitative","scale":{"domain":[0,1],"range":[8,18],"nice":false,"zero":false},"axis":null}}},
   {"data":{"values":[{}]},
    "mark":{"type":"rule","color":"#9a9a9a","strokeWidth":2},
    "encoding":{
     "x":{"datum":-0.38,"type":"quantitative","scale":{"domain":[-1,0,1,2,3],"range":[0,13,237,468,588],"nice":false,"zero":false},"axis":null},
     "x2":{"datum":2.86},
     "y":{"datum":1,"type":"quantitative","scale":{"domain":[0,1],"range":[8,18],"nice":false,"zero":false},"axis":null}}}
  ]
 },
 {
  "width": 588, "height": 130,
  "resolve": {"scale": {"y": "independent"}, "axis": {"y": "independent"}},
  "layer": [
   {
    "layer": [
     {"data":{"name":"qb"},
      "mark":{"type":"line","color":"#ee3535","strokeWidth":1.3,"interpolate":"monotone"},
      "encoding":{
       "x":{"field":"x","type":"quantitative","scale":{"type":"log","domain":[0.01,3000],"range":[76,502],"nice":false},
        "axis":{"title":"粒 度 (um)","values":[0.01,0.02,0.03,0.04,0.05,0.06,0.07,0.08,0.09,0.1,0.2,0.3,0.4,0.5,0.6,0.7,0.8,0.9,1,2,3,4,5,6,7,8,9,10,20,30,40,50,60,70,80,90,100,200,300,400,500,600,700,800,900,1000,2000,3000],"labelExpr":"indexof([0.01,0.1,1,10,100,1000,3000], datum.value) >= 0 ? datum.label : ''","format":"~g","grid":true,"gridColor":"#c4c4c4","gridWidth":1,"ticks":false,"tickSize":0,"labelPadding":5,"labelFont":"Liberation Sans","labelFontSize":11,"labelColor":"#111","labelFlush":false,"labelOverlap":false,"labelBound":false,"domain":true,"domainColor":"#222","domainWidth":1,"titleFont":"Liberation Serif, Noto Sans CJK SC","titleFontSize":11,"titleColor":"#555","titleFontWeight":"normal","titleY":25,"titleBaseline":"middle"}},
       "y":{"field":"v","type":"quantitative","scale":{"domain":[0,25],"nice":false,"zero":true},
        "axis":{"orient":"left","offset":-76,"title":"体 积 (%)","values":[0,5,10,15,20,25],"grid":true,"gridColor":"#c4c4c4","ticks":false,"tickSize":0,"labelPadding":3,"labelOffset":-2,"labelFont":"Liberation Sans","labelFontSize":11,"labelColor":"#111","domainColor":"#222","domainWidth":1,"titleFont":"Liberation Serif, Noto Sans CJK SC","titleFontSize":11,"titleColor":"#555","titleFontWeight":"normal","titleX":-46,"titleBaseline":"middle","titleAngle":270}}}},
     {"data":{"values":[{}]},
      "mark":{"type":"rule","color":"#222","strokeWidth":1},
      "encoding":{
       "x":{"datum":0.01,"type":"quantitative","scale":{"type":"log","domain":[0.01,3000],"range":[76,502],"nice":false},
        "axis":{"title":"粒 度 (um)","values":[0.01,0.02,0.03,0.04,0.05,0.06,0.07,0.08,0.09,0.1,0.2,0.3,0.4,0.5,0.6,0.7,0.8,0.9,1,2,3,4,5,6,7,8,9,10,20,30,40,50,60,70,80,90,100,200,300,400,500,600,700,800,900,1000,2000,3000],"labelExpr":"indexof([0.01,0.1,1,10,100,1000,3000], datum.value) >= 0 ? datum.label : ''","format":"~g","grid":true,"gridColor":"#c4c4c4","gridWidth":1,"ticks":false,"tickSize":0,"labelPadding":5,"labelFont":"Liberation Sans","labelFontSize":11,"labelColor":"#111","labelFlush":false,"labelOverlap":false,"labelBound":false,"domain":true,"domainColor":"#222","domainWidth":1,"titleFont":"Liberation Serif, Noto Sans CJK SC","titleFontSize":11,"titleColor":"#555","titleFontWeight":"normal","titleY":25,"titleBaseline":"middle"}},
       "x2":{"datum":3000},
       "y":{"datum":25,"type":"quantitative","scale":{"domain":[0,25],"nice":false,"zero":true},
        "axis":{"orient":"left","offset":-76,"title":"体 积 (%)","values":[0,5,10,15,20,25],"grid":true,"gridColor":"#c4c4c4","ticks":false,"tickSize":0,"labelPadding":3,"labelOffset":-2,"labelFont":"Liberation Sans","labelFontSize":11,"labelColor":"#111","domainColor":"#222","domainWidth":1,"titleFont":"Liberation Serif, Noto Sans CJK SC","titleFontSize":11,"titleColor":"#555","titleFontWeight":"normal","titleX":-46,"titleBaseline":"middle","titleAngle":270}}}},
     {"data":{"values":[{}]},
      "mark":{"type":"rule","color":"#333","strokeWidth":1.2},
      "encoding":{
       "x":{"datum":0.001963,"type":"quantitative","scale":{"type":"log","domain":[0.01,3000],"range":[76,502],"nice":false},
        "axis":{"title":"粒 度 (um)","values":[0.01,0.02,0.03,0.04,0.05,0.06,0.07,0.08,0.09,0.1,0.2,0.3,0.4,0.5,0.6,0.7,0.8,0.9,1,2,3,4,5,6,7,8,9,10,20,30,40,50,60,70,80,90,100,200,300,400,500,600,700,800,900,1000,2000,3000],"labelExpr":"indexof([0.01,0.1,1,10,100,1000,3000], datum.value) >= 0 ? datum.label : ''","format":"~g","grid":true,"gridColor":"#c4c4c4","gridWidth":1,"ticks":false,"tickSize":0,"labelPadding":5,"labelFont":"Liberation Sans","labelFontSize":11,"labelColor":"#111","labelFlush":false,"labelOverlap":false,"labelBound":false,"domain":true,"domainColor":"#222","domainWidth":1,"titleFont":"Liberation Serif, Noto Sans CJK SC","titleFontSize":11,"titleColor":"#555","titleFontWeight":"normal","titleY":25,"titleBaseline":"middle"}},
       "x2":{"datum":15740},
       "y":{"datum":26.92,"type":"quantitative","scale":{"domain":[0,25],"nice":false,"zero":true},
        "axis":{"orient":"left","offset":-76,"title":"体 积 (%)","values":[0,5,10,15,20,25],"grid":true,"gridColor":"#c4c4c4","ticks":false,"tickSize":0,"labelPadding":3,"labelOffset":-2,"labelFont":"Liberation Sans","labelFontSize":11,"labelColor":"#111","domainColor":"#222","domainWidth":1,"titleFont":"Liberation Serif, Noto Sans CJK SC","titleFontSize":11,"titleColor":"#555","titleFontWeight":"normal","titleX":-46,"titleBaseline":"middle","titleAngle":270}}}},
     {"data":{"values":[{}]},
      "mark":{"type":"rule","color":"#333","strokeWidth":1.2},
      "encoding":{
       "x":{"datum":0.001963,"type":"quantitative","scale":{"type":"log","domain":[0.01,3000],"range":[76,502],"nice":false},
        "axis":{"title":"粒 度 (um)","values":[0.01,0.02,0.03,0.04,0.05,0.06,0.07,0.08,0.09,0.1,0.2,0.3,0.4,0.5,0.6,0.7,0.8,0.9,1,2,3,4,5,6,7,8,9,10,20,30,40,50,60,70,80,90,100,200,300,400,500,600,700,800,900,1000,2000,3000],"labelExpr":"indexof([0.01,0.1,1,10,100,1000,3000], datum.value) >= 0 ? datum.label : ''","format":"~g","grid":true,"gridColor":"#c4c4c4","gridWidth":1,"ticks":false,"tickSize":0,"labelPadding":5,"labelFont":"Liberation Sans","labelFontSize":11,"labelColor":"#111","labelFlush":false,"labelOverlap":false,"labelBound":false,"domain":true,"domainColor":"#222","domainWidth":1,"titleFont":"Liberation Serif, Noto Sans CJK SC","titleFontSize":11,"titleColor":"#555","titleFontWeight":"normal","titleY":25,"titleBaseline":"middle"}},
       "y":{"datum":-5.38,"type":"quantitative","scale":{"domain":[0,25],"nice":false,"zero":true},
        "axis":{"orient":"left","offset":-76,"title":"体 积 (%)","values":[0,5,10,15,20,25],"grid":true,"gridColor":"#c4c4c4","ticks":false,"tickSize":0,"labelPadding":3,"labelOffset":-2,"labelFont":"Liberation Sans","labelFontSize":11,"labelColor":"#111","domainColor":"#222","domainWidth":1,"titleFont":"Liberation Serif, Noto Sans CJK SC","titleFontSize":11,"titleColor":"#555","titleFontWeight":"normal","titleX":-46,"titleBaseline":"middle","titleAngle":270}},
       "y2":{"datum":26.92}}},
     {"data":{"values":[{}]},
      "mark":{"type":"rule","color":"#333","strokeWidth":1.2},
      "encoding":{
       "x":{"datum":15740,"type":"quantitative","scale":{"type":"log","domain":[0.01,3000],"range":[76,502],"nice":false},
        "axis":{"title":"粒 度 (um)","values":[0.01,0.02,0.03,0.04,0.05,0.06,0.07,0.08,0.09,0.1,0.2,0.3,0.4,0.5,0.6,0.7,0.8,0.9,1,2,3,4,5,6,7,8,9,10,20,30,40,50,60,70,80,90,100,200,300,400,500,600,700,800,900,1000,2000,3000],"labelExpr":"indexof([0.01,0.1,1,10,100,1000,3000], datum.value) >= 0 ? datum.label : ''","format":"~g","grid":true,"gridColor":"#c4c4c4","gridWidth":1,"ticks":false,"tickSize":0,"labelPadding":5,"labelFont":"Liberation Sans","labelFontSize":11,"labelColor":"#111","labelFlush":false,"labelOverlap":false,"labelBound":false,"domain":true,"domainColor":"#222","domainWidth":1,"titleFont":"Liberation Serif, Noto Sans CJK SC","titleFontSize":11,"titleColor":"#555","titleFontWeight":"normal","titleY":25,"titleBaseline":"middle"}},
       "y":{"datum":-5.38,"type":"quantitative","scale":{"domain":[0,25],"nice":false,"zero":true},
        "axis":{"orient":"left","offset":-76,"title":"体 积 (%)","values":[0,5,10,15,20,25],"grid":true,"gridColor":"#c4c4c4","ticks":false,"tickSize":0,"labelPadding":3,"labelOffset":-2,"labelFont":"Liberation Sans","labelFontSize":11,"labelColor":"#111","domainColor":"#222","domainWidth":1,"titleFont":"Liberation Serif, Noto Sans CJK SC","titleFontSize":11,"titleColor":"#555","titleFontWeight":"normal","titleX":-46,"titleBaseline":"middle","titleAngle":270}},
       "y2":{"datum":26.92}}},
     {"data":{"values":[{}]},
      "mark":{"type":"rule","color":"#333","strokeWidth":1.2},
      "encoding":{
       "x":{"datum":0.001963,"type":"quantitative","scale":{"type":"log","domain":[0.01,3000],"range":[76,502],"nice":false},
        "axis":{"title":"粒 度 (um)","values":[0.01,0.02,0.03,0.04,0.05,0.06,0.07,0.08,0.09,0.1,0.2,0.3,0.4,0.5,0.6,0.7,0.8,0.9,1,2,3,4,5,6,7,8,9,10,20,30,40,50,60,70,80,90,100,200,300,400,500,600,700,800,900,1000,2000,3000],"labelExpr":"indexof([0.01,0.1,1,10,100,1000,3000], datum.value) >= 0 ? datum.label : ''","format":"~g","grid":true,"gridColor":"#c4c4c4","gridWidth":1,"ticks":false,"tickSize":0,"labelPadding":5,"labelFont":"Liberation Sans","labelFontSize":11,"labelColor":"#111","labelFlush":false,"labelOverlap":false,"labelBound":false,"domain":true,"domainColor":"#222","domainWidth":1,"titleFont":"Liberation Serif, Noto Sans CJK SC","titleFontSize":11,"titleColor":"#555","titleFontWeight":"normal","titleY":25,"titleBaseline":"middle"}},
       "x2":{"datum":2.46},
       "y":{"datum":-5.38,"type":"quantitative","scale":{"domain":[0,25],"nice":false,"zero":true},
        "axis":{"orient":"left","offset":-76,"title":"体 积 (%)","values":[0,5,10,15,20,25],"grid":true,"gridColor":"#c4c4c4","ticks":false,"tickSize":0,"labelPadding":3,"labelOffset":-2,"labelFont":"Liberation Sans","labelFontSize":11,"labelColor":"#111","domainColor":"#222","domainWidth":1,"titleFont":"Liberation Serif, Noto Sans CJK SC","titleFontSize":11,"titleColor":"#555","titleFontWeight":"normal","titleX":-46,"titleBaseline":"middle","titleAngle":270}}}},
     {"data":{"values":[{}]},
      "mark":{"type":"rule","color":"#333","strokeWidth":1.2},
      "encoding":{
       "x":{"datum":11.83,"type":"quantitative","scale":{"type":"log","domain":[0.01,3000],"range":[76,502],"nice":false},
        "axis":{"title":"粒 度 (um)","values":[0.01,0.02,0.03,0.04,0.05,0.06,0.07,0.08,0.09,0.1,0.2,0.3,0.4,0.5,0.6,0.7,0.8,0.9,1,2,3,4,5,6,7,8,9,10,20,30,40,50,60,70,80,90,100,200,300,400,500,600,700,800,900,1000,2000,3000],"labelExpr":"indexof([0.01,0.1,1,10,100,1000,3000], datum.value) >= 0 ? datum.label : ''","format":"~g","grid":true,"gridColor":"#c4c4c4","gridWidth":1,"ticks":false,"tickSize":0,"labelPadding":5,"labelFont":"Liberation Sans","labelFontSize":11,"labelColor":"#111","labelFlush":false,"labelOverlap":false,"labelBound":false,"domain":true,"domainColor":"#222","domainWidth":1,"titleFont":"Liberation Serif, Noto Sans CJK SC","titleFontSize":11,"titleColor":"#555","titleFontWeight":"normal","titleY":25,"titleBaseline":"middle"}},
       "x2":{"datum":15740},
       "y":{"datum":-5.38,"type":"quantitative","scale":{"domain":[0,25],"nice":false,"zero":true},
        "axis":{"orient":"left","offset":-76,"title":"体 积 (%)","values":[0,5,10,15,20,25],"grid":true,"gridColor":"#c4c4c4","ticks":false,"tickSize":0,"labelPadding":3,"labelOffset":-2,"labelFont":"Liberation Sans","labelFontSize":11,"labelColor":"#111","domainColor":"#222","domainWidth":1,"titleFont":"Liberation Serif, Noto Sans CJK SC","titleFontSize":11,"titleColor":"#555","titleFontWeight":"normal","titleX":-46,"titleBaseline":"middle","titleAngle":270}}}}
    ]
   },
   {
    "layer": [
     {"data":{"name":"Qb"},
      "mark":{"type":"line","color":"#ee3535","strokeWidth":1.3,"interpolate":"monotone"},
      "encoding":{
       "x":{"field":"x","type":"quantitative","scale":{"type":"log","domain":[0.01,3000],"range":[76,502],"nice":false},
        "axis":{"title":"粒 度 (um)","values":[0.01,0.02,0.03,0.04,0.05,0.06,0.07,0.08,0.09,0.1,0.2,0.3,0.4,0.5,0.6,0.7,0.8,0.9,1,2,3,4,5,6,7,8,9,10,20,30,40,50,60,70,80,90,100,200,300,400,500,600,700,800,900,1000,2000,3000],"labelExpr":"indexof([0.01,0.1,1,10,100,1000,3000], datum.value) >= 0 ? datum.label : ''","format":"~g","grid":true,"gridColor":"#c4c4c4","gridWidth":1,"ticks":false,"tickSize":0,"labelPadding":5,"labelFont":"Liberation Sans","labelFontSize":11,"labelColor":"#111","labelFlush":false,"labelOverlap":false,"labelBound":false,"domain":true,"domainColor":"#222","domainWidth":1,"titleFont":"Liberation Serif, Noto Sans CJK SC","titleFontSize":11,"titleColor":"#555","titleFontWeight":"normal","titleY":25,"titleBaseline":"middle"}},
       "y":{"field":"c","type":"quantitative","scale":{"domain":[0,107.6],"nice":false,"zero":true},
        "axis":{"orient":"right","offset":-86,"title":null,"values":[0,20,40,60,80,100],"grid":false,"ticks":true,"tickSize":4,"tickColor":"#222","labelPadding":2,"labelOffset":-2,"labelFont":"Liberation Sans","labelFontSize":11,"labelColor":"#111","domainColor":"#222","domainWidth":1}}}}
    ]
   }
  ]
 },
 {
  "width": 588, "height": 120,
  "layer": [
   {"data":{"values":[{"t":"（b）团聚钨镍粉"}]},
    "mark":{"type":"text","align":"center","baseline":"middle","font":"Liberation Serif, Noto Sans CJK SC","fontSize":17,"color":"#3a3a3a"},
    "encoding":{"text":{"field":"t"},
     "x":{"datum":0.5,"type":"quantitative","scale":{"domain":[0,1],"nice":false},"axis":null},
     "y":{"datum":0,"type":"quantitative","scale":{"domain":[0,1],"range":[55,98],"nice":false,"zero":false},"axis":null}}},
   {"data":{"values":[{"t":"图 2\u00a0\u00a0\u00a0\u00a0\u00a0\u00a0钨基粉末粒度分布"}]},
    "mark":{"type":"text","align":"center","baseline":"middle","font":"Noto Sans CJK SC","fontSize":21,"fontWeight":"bold","color":"#1a1a1a"},
    "encoding":{"text":{"field":"t"},
     "x":{"datum":0.5,"type":"quantitative","scale":{"domain":[0,1],"nice":false},"axis":null},
     "y":{"datum":1,"type":"quantitative","scale":{"domain":[0,1],"range":[55,98],"nice":false,"zero":false},"axis":null}}}
  ]
 }
]
}
